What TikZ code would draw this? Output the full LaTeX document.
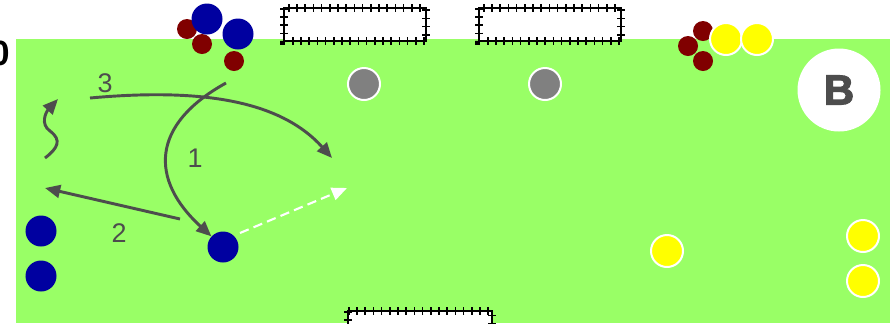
\documentclass[tikz,border=0pt]{standalone}
\usepackage{fontspec}
\setmainfont{Liberation Sans}
\newfontfamily\badgefont{Liberation Sans}[BoldFeatures={FakeBold=2.5}]
\usepackage{xcolor}
\usetikzlibrary{arrows.meta, positioning}

\definecolor{pitch}{RGB}{153,255,102}
\definecolor{teamblue}{RGB}{0,0,160}
\definecolor{teamred}{RGB}{128,0,0}
\definecolor{teamyellow}{RGB}{255,255,0}
\definecolor{inkgray}{RGB}{77,77,77}

\tikzset{
    blueplayer/.style={circle, fill=teamblue, minimum size=0.93cm, inner sep=0pt},
    redplayer/.style={circle, fill=teamred, minimum size=0.6cm, inner sep=0pt},
    yellowplayer/.style={circle, fill=teamyellow, draw=white, line width=0.06cm, minimum size=0.96cm, inner sep=0pt},
    cone/.style={circle, fill=gray, draw=white, line width=0.06cm, minimum size=0.96cm, inner sep=0pt},
    goalnet/.style={draw, fill=white, line width=1.1pt},
    goalticks/.style={draw, line width=7pt, dash pattern=on 1.3pt off 5.7pt},
    run/.style={draw=inkgray, line width=2.5pt, -{Triangle[length=13pt, width=11pt]}},
    pass/.style={draw=white, line width=1.8pt, dash pattern=on 8pt off 4.5pt, -{Triangle[length=13pt, width=11pt]}},
    runlabel/.style={text=inkgray, font=\fontsize{23}{23}\selectfont, inner sep=0pt}
}

\begin{document}
\begin{tikzpicture}[x=0.03cm, y=-0.03cm]
        \useasboundingbox (0,0) rectangle (895,323);

        % Pitch
        \fill[pitch] (16,39) rectangle (890,323);
        \node (corner) [anchor=east, inner sep=0pt, font=\fontsize{30}{30}\selectfont\bfseries] at (10,53) {0};

        % Goals
        \path[goalnet] (284,8) rectangle (426,41);
        \path[goalticks] (284,8) rectangle (426,41);
        \path[goalnet] (479,8) rectangle (621,41);
        \path[goalticks] (479,8) rectangle (621,41);
        \path[goalnet] (348,311) rectangle (492,340);
        \path[goalticks] (348,311) rectangle (492,340);

        % Cones
        \node (cone1) [cone] at (364,84) {};
        \node (cone2) [cone] at (545,84) {};

        % Team B badge
        \node (badge) [circle, fill=white, minimum size=2.49cm, inner sep=0pt] at (839,90) {};
        \node (badgeB) [text=inkgray, font=\fontsize{36}{36}\badgefont\bfseries, inner sep=0pt] at (badge) {B};

        % Red players
        \node (r1) [redplayer] at (187,29) {};
        \node (r2) [redplayer] at (202,44) {};
        \node (r3) [redplayer] at (234,61) {};
        \node (r4) [redplayer] at (703,31) {};
        \node (r5) [redplayer] at (688,46) {};
        \node (r6) [redplayer] at (703,61) {};

        % Blue players
        \node (b1) [blueplayer] at (207,19) {};
        \node (b2) [blueplayer] at (238,34) {};
        \node (b3) [blueplayer] at (41,231) {};
        \node (b4) [blueplayer] at (41,276) {};
        \node (b5) [blueplayer] at (223,247) {};

        % Yellow players
        \node (y1) [yellowplayer] at (726,39) {};
        \node (y2) [yellowplayer] at (757,39) {};
        \node (y3) [yellowplayer] at (667,251) {};
        \node (y4) [yellowplayer] at (863,236) {};
        \node (y5) [yellowplayer] at (863,281) {};

        % Run ends
        \coordinate (start1) at (226,83);
        \coordinate (start2) at (180,219);
        \coordinate (end2) at (45,188);
        \coordinate (start3) at (90,98);
        \coordinate (end3) at (332,158);
        \coordinate (dribble) at (45,158);
        \coordinate (dribbleend) at (58,99);
        \coordinate (passstart) at (240,233);
        \coordinate (passend) at (347,188);

        % Runs
        \draw[run] (start1) .. controls (150,125) and (150,180) .. (b5);
        \draw[run] (start2) -- (end2);
        \draw[run] (start3) .. controls (200,88) and (280,100) .. (end3);
        \draw[run] (dribble) .. controls (58,148) and (62,140) .. (50,131) .. controls (40,124) and (46,112) .. (dribbleend);
        \draw[pass] (passstart) -- (passend);

        % Run labels
        \node (lab1) [runlabel] at (195,158) {1};
        \node (lab2) [runlabel] at (119,233) {2};
        \node (lab3) [runlabel] at (105,83) {3};
    \end{tikzpicture}
\end{document}
